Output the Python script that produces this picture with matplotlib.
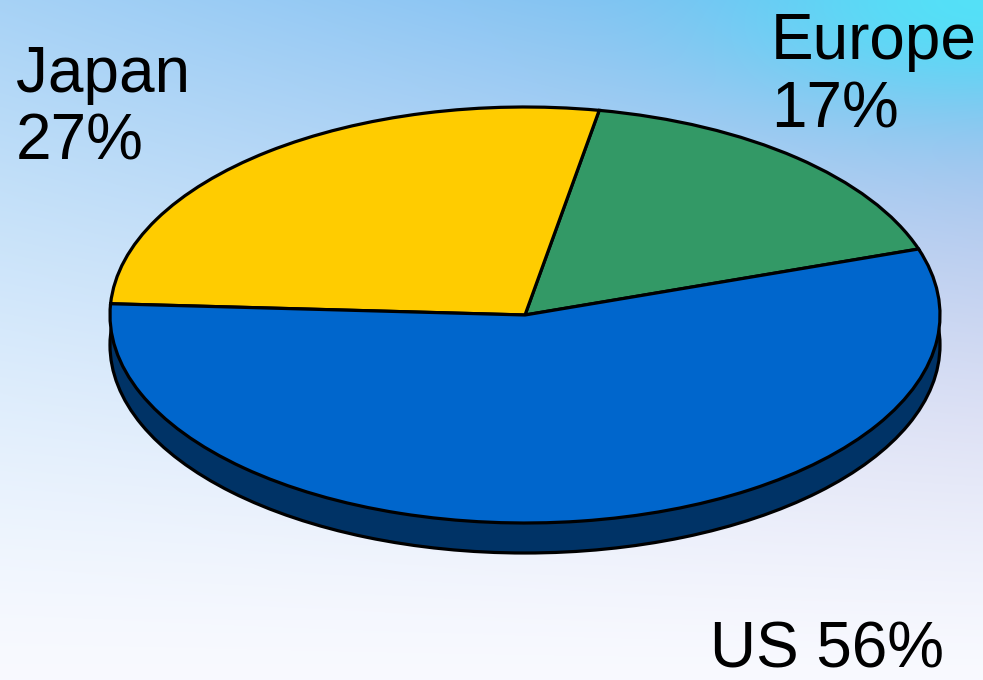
import numpy as np
import matplotlib
matplotlib.use("Agg")
import matplotlib.pyplot as plt
from matplotlib.patches import Wedge

plt.rcParams["font.family"] = ["Liberation Sans", "DejaVu Sans"]

regions = ["Europe", "Japan", "US"]
shares = [17, 27, 56]
colors = ["#339966", "#FFCC00", "#0066CC"]
side_color = "#003366"

W, H = 983, 680
fig = plt.figure(figsize=(W / 100, H / 100), dpi=100)

# background: blue at the top fading to white at the bottom, cyan glow top right
bg = fig.add_axes([0, 0, 1, 1])
bg.set_axis_off()
xx, yy = np.meshgrid(np.linspace(0, 1, W), np.linspace(0, 1, H))
w = np.clip(1 - yy, 0, 1) ** 1.3 * (0.6 + 0.4 * xx)
white = np.array([0.975, 0.98, 1.0])
blue = np.array([0.44, 0.72, 0.94])
lav = np.array([0.60, 0.64, 0.86])
mix = np.clip(yy * 1.6 * xx, 0, 1)[..., None]
tint = blue * (1 - mix) + lav * mix
img = white * (1 - w[..., None]) + tint * w[..., None]
cyan = np.array([0.33, 0.88, 0.97])
g = np.exp(-(((xx - 1.0) / 0.25) ** 2 + (yy / 0.15) ** 2))[..., None]
img = img * (1 - g) + cyan * g
bg.imshow(np.clip(img, 0, 1), extent=[0, 1, 0, 1], aspect="auto", origin="upper")
bg.set_xlim(0, 1)
bg.set_ylim(0, 1)

# pie axes: unit radius maps to 415 px wide, 208 px tall
ax = fig.add_axes([0, 0, 1, 1])
ax.set_axis_off()
cx, cy = 525, 365
rx, ry = 415, 208
ax.set_xlim(-cx / rx, (W - cx) / rx)
ax.set_ylim(-cy / ry, (H - cy) / ry)
ax.patch.set_alpha(0)

depth = 30 / ry
start = 18.5
angles = start + np.concatenate([[0], np.cumsum(shares)]) * 3.6

# side of the disc
ax.add_patch(Wedge((0, -depth), 1, 0, 360, facecolor=side_color,
                   edgecolor="black", lw=2.3, zorder=1))

for i, name in enumerate(regions):
    ax.add_patch(Wedge((0, 0), 1, angles[i], angles[i + 1], facecolor=colors[i],
                       edgecolor="black", lw=2.3, zorder=2))

fs = 46
def label(x, y, s):
    fig.text(x / W, 1 - y / H, s, fontsize=fs, va="baseline", ha="left", color="black")

label(16, 92, "Japan")
label(16, 160, f"{shares[1]}%")
label(771, 59, "Europe")
label(771, 127, f"{shares[0]}%")
label(710, 668, f"US {shares[2]}%")

fig.savefig("out.png", dpi=100)
